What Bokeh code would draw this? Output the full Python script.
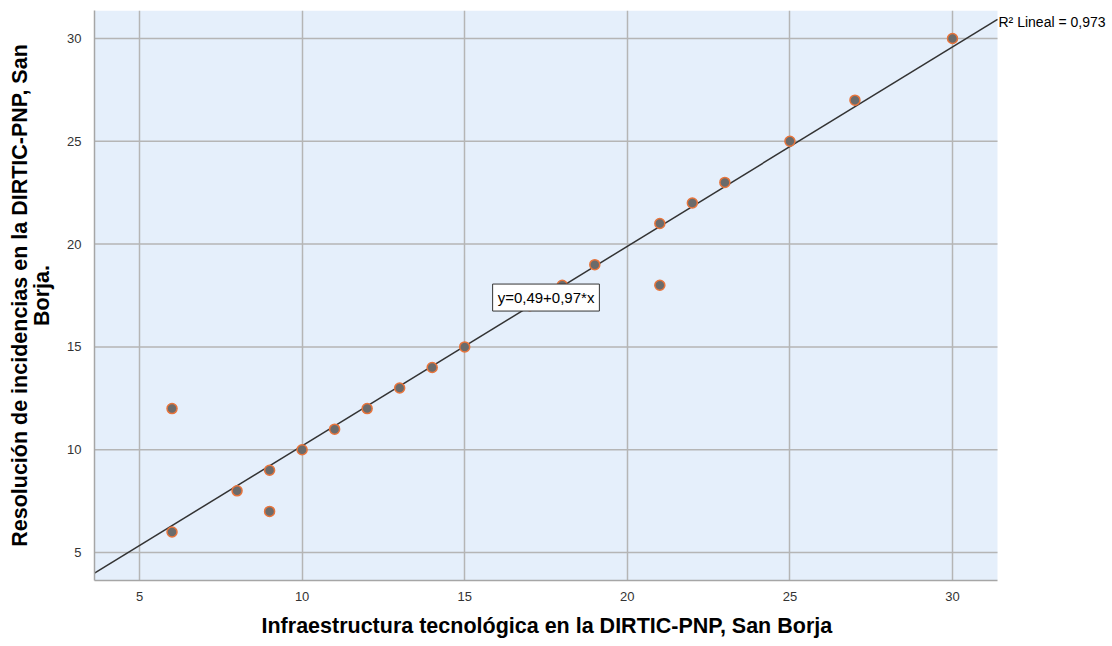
from bokeh.plotting import figure
from bokeh.models import Label, Range1d, FixedTicker, BoxAnnotation, Title
from bokeh.embed import file_html
from bokeh.resources import INLINE

# data
x_vals = [6, 6, 8, 9, 9, 10, 11, 12, 13, 14, 15, 17, 18, 19, 21, 21, 22, 23, 25, 27, 30]
y_vals = [12, 6, 8, 9, 7, 10, 11, 12, 13, 14, 15, 17, 18, 19, 21, 18, 22, 23, 25, 27, 30]
intercept = 0.49
slope = 0.97
r2_text = "R² Lineal = 0,973"
eq_text = "y=0,49+0,97*x"
x_ticks = [5, 10, 15, 20, 25, 30]
y_ticks = [5, 10, 15, 20, 25, 30]
x_label = "Infraestructura tecnológica en  la DIRTIC-PNP, San Borja"
y_label = "Resolución de incidencias en la DIRTIC-PNP, San\nBorja."

# plot region (data extent of the shaded area)
x_min, x_max = 3.616, 31.384
y_min, y_max = 3.64, 31.36
x_canvas_end = 34.92  # frame continues to the right to leave room for the R² note

FONT = "Liberation Sans"
GRID = "#b5b5b5"
LABEL_SIZE = "21.5px"

p = figure(width=1112, height=646, output_backend="svg", toolbar_location=None,
           x_range=Range1d(x_min, x_canvas_end), y_range=Range1d(y_min, y_max),
           min_border_left=94, min_border_right=0, min_border_top=10, min_border_bottom=66)
p.background_fill_color = "white"
p.border_fill_color = "white"
p.outline_line_color = None

# shaded plot area
p.add_layout(BoxAnnotation(left=x_min, right=x_max, bottom=y_min, top=y_max,
                           fill_color="#e5effb", fill_alpha=1.0, line_color=None, level="image"))

for ax in (p.xaxis[0], p.yaxis[0]):
    ax.major_tick_line_color = None
    ax.minor_tick_line_color = None
    ax.axis_line_color = "#a6a6a6"
    ax.axis_line_width = 1.5
    ax.major_label_text_font = FONT
    ax.major_label_text_font_size = "13px"
    ax.major_label_text_color = "#333333"
    ax.axis_label_text_font = FONT
    ax.axis_label_text_font_size = LABEL_SIZE
    ax.axis_label_text_font_style = "bold"
    ax.axis_label_text_color = "black"
    ax.axis_label_text_line_height = 0.92

p.xaxis.ticker = FixedTicker(ticks=x_ticks)
p.yaxis.ticker = FixedTicker(ticks=y_ticks)
p.xaxis.bounds = (x_min, x_max)
p.yaxis.axis_label = y_label
p.xaxis.major_label_standoff = 5
p.yaxis.major_label_standoff = 7
p.yaxis.axis_label_standoff = 10

# x-axis title, centred under the shaded area
p.add_layout(Title(text=x_label, align="left", offset=167, text_font=FONT,
                   text_font_size=LABEL_SIZE, text_font_style="bold", text_color="black",
                   standoff=17), "below")

p.xgrid.grid_line_color = GRID
p.xgrid.grid_line_width = 1.5
p.ygrid.grid_line_color = None

# horizontal grid lines limited to the shaded area
p.segment(x0=[x_min] * len(y_ticks), x1=[x_max] * len(y_ticks), y0=y_ticks, y1=y_ticks,
          line_color=GRID, line_width=1.5, level="underlay")

# regression line
lx = [x_min, x_max]
ly = [intercept + slope * v for v in lx]
p.line(lx, ly, line_color="#333333", line_width=1.5)

# points
p.scatter(x_vals, y_vals, size=10, fill_color="#6b6b6b", line_color="#e8743b", line_width=1.5)

# R2 label
p.add_layout(Label(x=x_max, y=ly[1], text=r2_text, text_align="left", text_baseline="middle",
                   text_font=FONT, text_font_size="14px", text_color="black",
                   x_offset=1, y_offset=-3))

# equation label
p.add_layout(Label(x=17.5, y=17.4, text=eq_text, text_align="center", text_baseline="middle",
                   text_font=FONT, text_font_size="15px", text_color="black",
                   background_fill_color="white", border_line_color="#333333", border_line_width=1,
                   padding=5))

open("out.html", "w").write(file_html(p, INLINE))
